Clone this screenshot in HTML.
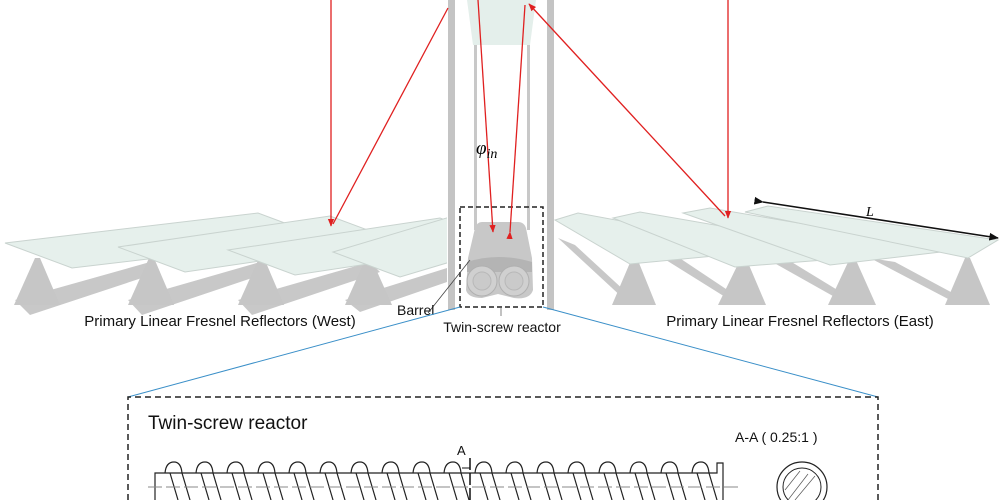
<!DOCTYPE html>
<html><head><meta charset="utf-8"><style>
html,body{margin:0;padding:0;background:#fff;}
svg{display:block;font-family:"Liberation Sans",sans-serif;}
</style></head><body>
<svg width="1000" height="500" viewBox="0 0 1000 500" xmlns="http://www.w3.org/2000/svg">
<defs>
<marker id="ar" viewBox="0 0 10 10" refX="9" refY="5" markerWidth="6" markerHeight="6" orient="auto"><path d="M0,1 L10,5 L0,9 z" fill="#e02020"/></marker>
<marker id="ak" viewBox="0 0 10 10" refX="9" refY="5" markerWidth="6" markerHeight="6" orient="auto"><path d="M0,1 L10,5 L0,9 z" fill="#111"/></marker>
<clipPath id="cw"><rect x="0" y="0" width="447" height="500"/></clipPath>
</defs>
<!-- West reflectors -->
<g clip-path="url(#cw)">
<g fill="#c8c8c8">
<path d="M15,300 L150,262 L160,272 L30,315 Z"/>
<path d="M128,300 L260,262 L270,272 L142,315 Z"/>
<path d="M238,300 L370,262 L380,272 L252,315 Z"/>
<path d="M345,300 L447,268 L447,282 L360,312 Z"/>
</g>
<g fill="#c6c6c6">
<path d="M14,305 L35,258 L40,258 L60,305 Z"/>
<path d="M128,305 L149,258 L154,258 L174,305 Z"/>
<path d="M238,305 L259,258 L264,258 L284,305 Z"/>
<path d="M345,305 L366,258 L371,258 L392,305 Z"/>
</g>
<g fill="#e6f0ec" stroke="#c9d3cf" stroke-width="1">
<path d="M5,243 L258,213 L325,238 L72,268 Z"/>
<path d="M118,247 L330,216 L397,241 L185,272 Z"/>
<path d="M228,250 L440,218 L507,243 L295,275 Z"/>
<path d="M333,252 L460,214 L527,239 L400,277 Z"/>
</g>
</g>
<!-- East reflectors -->
<g>
<g fill="#c8c8c8">
<path d="M558,238 L625,300 L640,305 L575,245 Z"/>
<path d="M650,250 L730,300 L750,305 L675,255 Z"/>
<path d="M760,255 L840,300 L862,305 L785,258 Z"/>
<path d="M870,258 L950,300 L975,305 L895,262 Z"/>
</g>
<g fill="#c6c6c6">
<path d="M612,305 L632,258 L637,258 L656,305 Z"/>
<path d="M718,305 L741,258 L746,258 L766,305 Z"/>
<path d="M828,305 L850,258 L855,258 L876,305 Z"/>
<path d="M945,305 L965,258 L970,258 L990,305 Z"/>
</g>
<g fill="#e6f0ec" stroke="#c9d3cf" stroke-width="1">
<path d="M555,220 L578,213 L778,250 L630,264 Z"/>
<path d="M613,218 L640,212 L888,255 L735,267 Z"/>
<path d="M683,213 L710,208 L958,250 L830,265 Z"/>
<path d="M745,212 L768,206 L998,240 L968,258 Z"/>
</g>
<line x1="763" y1="202" x2="998" y2="238" stroke="#111" stroke-width="1.6" marker-start="url(#ak)" marker-end="url(#ak)"/>
<text x="866" y="216" font-size="14" font-style="italic" font-family="Liberation Serif,serif">L</text>
</g>
<!-- tower -->
<rect x="448" y="0" width="7" height="310" fill="#c4c4c4"/>
<rect x="547" y="0" width="7" height="310" fill="#c4c4c4"/>
<rect x="474" y="45" width="3" height="185" fill="#c8c8c8"/>
<rect x="527" y="45" width="3" height="185" fill="#c8c8c8"/>
<path d="M467,0 L536,0 L530,45 L473,45 Z" fill="#e4efeb"/>
<!-- reactor -->
<path d="M482,222 L518,222 Q524,222 526,228 L532,258 L533,290 Q530,300 514,298 L498,294 L482,298 Q468,298 466,290 L468,258 L475,228 Q477,222 482,222 Z" fill="#c8c8c8"/>
<path d="M467,262 Q498,252 532,262 L532,272 L467,272 Z" fill="#b4b4b4"/>
<circle cx="482" cy="281" r="15" fill="#d0d0d0" stroke="#b0b0b0"/>
<circle cx="514" cy="281" r="15" fill="#d0d0d0" stroke="#b0b0b0"/>
<circle cx="482" cy="281" r="9" fill="#cacaca" stroke="#b8b8b8"/>
<circle cx="514" cy="281" r="9" fill="#cacaca" stroke="#b8b8b8"/>
<rect x="460" y="207" width="83" height="100" fill="none" stroke="#222" stroke-width="1.5" stroke-dasharray="5,3"/>
<!-- red rays -->
<g stroke="#e02020" stroke-width="1.3" fill="none">
<line x1="331" y1="0" x2="331" y2="226" marker-end="url(#ar)"/>
<line x1="448" y1="8" x2="333" y2="224"/>
<line x1="478" y1="0" x2="493" y2="232" marker-end="url(#ar)"/>
<line x1="510" y1="232" x2="525" y2="5" marker-start="url(#ar)"/>
<line x1="728" y1="0" x2="728" y2="218" marker-end="url(#ar)"/>
<line x1="725" y1="216" x2="529" y2="4" marker-end="url(#ar)"/>
</g>
<text x="476" y="154" font-size="19" font-style="italic" font-family="Liberation Serif,serif">φ<tspan font-size="14" dy="4">in</tspan></text>
<!-- labels -->
<line x1="428" y1="313" x2="470" y2="260" stroke="#444" stroke-width="0.8"/>
<text x="397" y="315" font-size="14" fill="#111">Barrel</text>
<line x1="501" y1="307" x2="501" y2="316" stroke="#666" stroke-width="0.8"/>
<text x="502" y="332" font-size="14" fill="#111" text-anchor="middle">Twin-screw reactor</text>
<text x="220" y="326" font-size="15" fill="#111" text-anchor="middle">Primary Linear Fresnel Reflectors (West)</text>
<text x="800" y="326" font-size="15" fill="#111" text-anchor="middle">Primary Linear Fresnel Reflectors (East)</text>
<!-- zoom lines -->
<line x1="460" y1="307" x2="128" y2="397" stroke="#3a8fc8" stroke-width="1"/>
<line x1="543" y1="307" x2="878" y2="397" stroke="#3a8fc8" stroke-width="1"/>
<path d="M128,500 L128,397 L878,397 L878,500" fill="none" stroke="#222" stroke-width="1.5" stroke-dasharray="6,4"/>
<text x="148" y="429" font-size="19" fill="#111">Twin-screw reactor</text>
<text x="735" y="442" font-size="14" fill="#111">A-A ( 0.25:1 )</text>
<!-- screw -->
<g stroke="#222" stroke-width="1.2" fill="none">
<path d="M155,500 L155,473 L717,473 L717,463 L723,463 L723,500"/>
<g id="fl">
<path d="M165,473 Q166,462 174,462 Q181,462 182,473 L190,500"/>
<path d="M170,473 L178,500"/>
</g>
<use href="#fl" x="31"/><use href="#fl" x="62"/><use href="#fl" x="93"/><use href="#fl" x="124"/>
<use href="#fl" x="155"/><use href="#fl" x="186"/><use href="#fl" x="217"/><use href="#fl" x="248"/>
<use href="#fl" x="279"/><use href="#fl" x="310"/><use href="#fl" x="341"/><use href="#fl" x="372"/>
<use href="#fl" x="403"/><use href="#fl" x="434"/><use href="#fl" x="465"/><use href="#fl" x="496"/>
<use href="#fl" x="527"/>
</g>
<line x1="148" y1="487" x2="742" y2="487" stroke="#888" stroke-width="1" stroke-dasharray="14,4"/>
<line x1="470" y1="458" x2="470" y2="500" stroke="#111" stroke-width="1.5" stroke-dasharray="12,3"/>
<line x1="470" y1="468" x2="462" y2="468" stroke="#111" stroke-width="1"/>
<text x="457" y="455" font-size="13" fill="#111">A</text>
<circle cx="802" cy="487" r="25" fill="none" stroke="#222" stroke-width="1.2"/>
<circle cx="802" cy="487" r="19" fill="none" stroke="#222" stroke-width="1"/>
<g stroke="#555" stroke-width="0.7">
<line x1="788" y1="500" x2="808" y2="474"/><line x1="795" y1="500" x2="815" y2="476"/><line x1="785" y1="490" x2="800" y2="471"/>
</g>
</svg>
</body></html>
